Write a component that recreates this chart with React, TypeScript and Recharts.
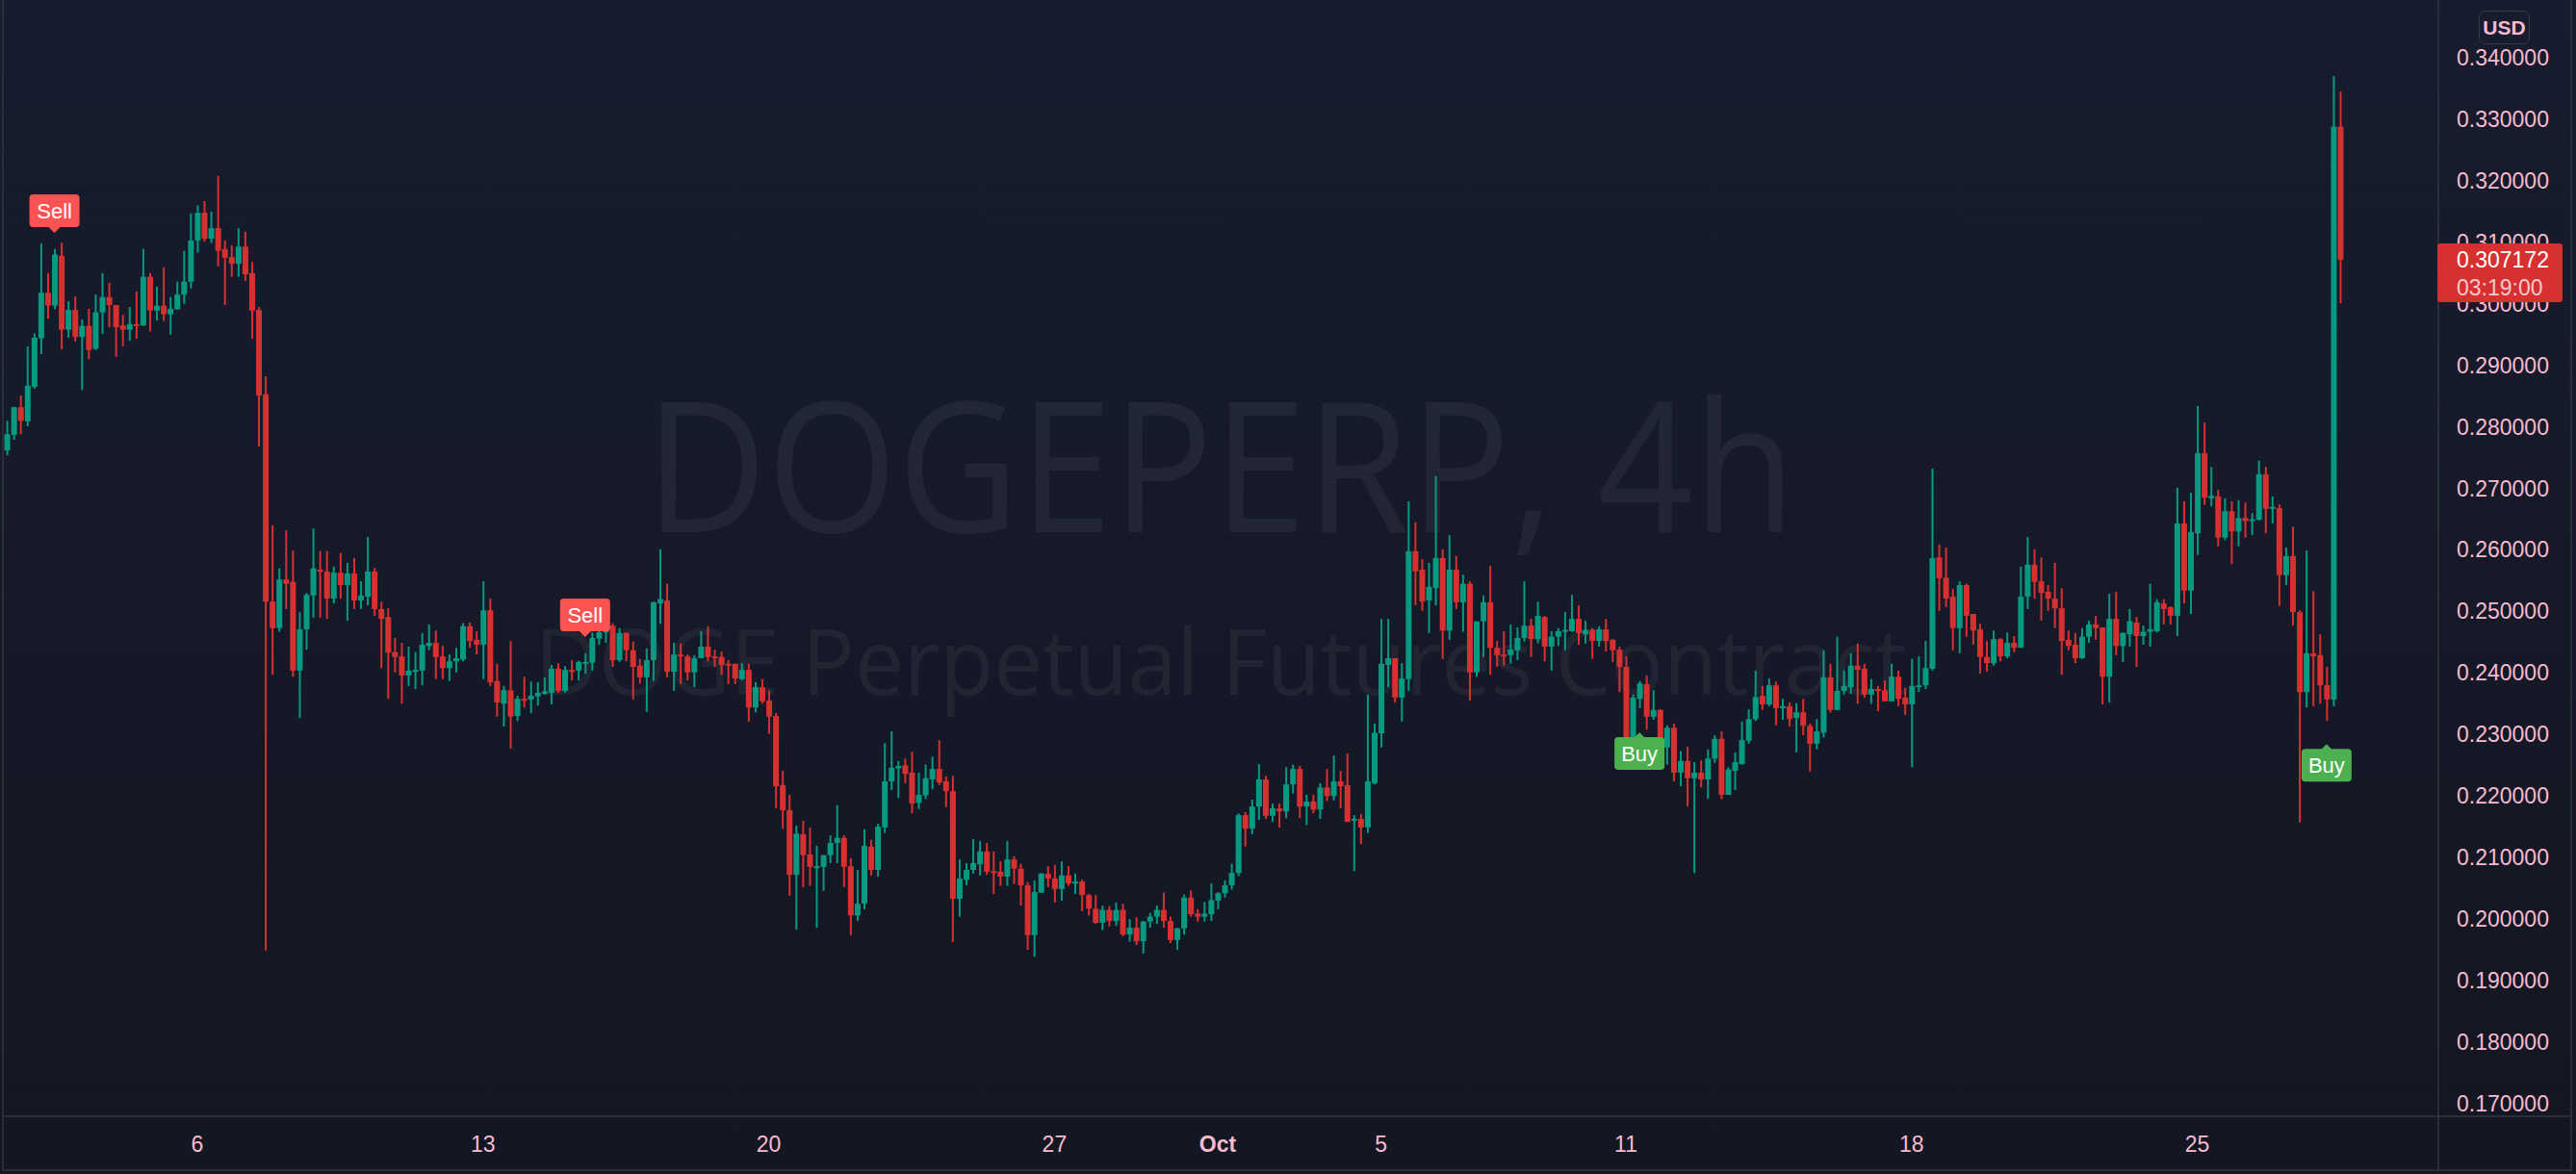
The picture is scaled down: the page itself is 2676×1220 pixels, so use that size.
import React from "react";
import { ComposedChart, Bar, Scatter, XAxis, YAxis } from "recharts";

type Ohlc = [number, number, number, number];

// 4h candles, open / high / low / close, first candle Sep 1 08:00
const weekSep1: Ohlc[] = [
  [0.2762, 0.281, 0.2754, 0.2788], [0.2787, 0.2832, 0.2779, 0.2832], [0.2832, 0.2851, 0.2788, 0.281],
  [0.2809, 0.2931, 0.2801, 0.2867], [0.2865, 0.2952, 0.2862, 0.2945], [0.2944, 0.3098, 0.2918, 0.3018],
  [0.3018, 0.305, 0.2976, 0.2997], [0.2997, 0.3089, 0.2991, 0.308], [0.3078, 0.3099, 0.2926, 0.2958],
  [0.2958, 0.3004, 0.2945, 0.299], [0.299, 0.3012, 0.2939, 0.2946], [0.2946, 0.2975, 0.286, 0.2964],
  [0.2964, 0.2992, 0.291, 0.2925], [0.2927, 0.3015, 0.2925, 0.2986], [0.2986, 0.305, 0.2951, 0.3011],
  [0.3011, 0.3034, 0.2962, 0.2998], [0.2998, 0.2998, 0.2914, 0.2962], [0.2965, 0.2982, 0.2931, 0.2958],
  [0.2958, 0.2995, 0.294, 0.2967], [0.2967, 0.302, 0.2943, 0.2965], [0.2965, 0.3089, 0.2964, 0.3044],
  [0.3044, 0.305, 0.2955, 0.2989], [0.2989, 0.3028, 0.2973, 0.2997], [0.2997, 0.3059, 0.2972, 0.2983],
  [0.2983, 0.3011, 0.295, 0.2992], [0.2991, 0.3036, 0.2991, 0.3015], [0.3015, 0.3086, 0.3, 0.3036],
  [0.3036, 0.3147, 0.3025, 0.3103],
];

const weekSep6: Ohlc[] = [
  [0.3103, 0.316, 0.3083, 0.3148], [0.3148, 0.3167, 0.3101, 0.3106], [0.3106, 0.315, 0.3099, 0.3123],
  [0.3123, 0.3208, 0.3061, 0.3086], [0.3089, 0.3103, 0.2998, 0.3075], [0.3076, 0.3095, 0.3044, 0.3065],
  [0.3065, 0.3123, 0.3044, 0.3093], [0.3093, 0.3117, 0.3037, 0.3048], [0.305, 0.3068, 0.2943, 0.2989],
  [0.299, 0.2995, 0.2768, 0.2851], [0.2853, 0.2882, 0.1949, 0.2516], [0.2516, 0.264, 0.2397, 0.2473],
  [0.2473, 0.257, 0.2467, 0.2552], [0.2552, 0.2632, 0.2504, 0.2545], [0.2548, 0.2599, 0.2394, 0.2404],
  [0.2404, 0.2499, 0.2327, 0.2471], [0.2471, 0.253, 0.2438, 0.2527], [0.2526, 0.2635, 0.249, 0.257],
  [0.2568, 0.2598, 0.249, 0.2567], [0.2565, 0.2598, 0.2488, 0.2521], [0.2521, 0.2573, 0.2513, 0.2563],
  [0.2563, 0.2595, 0.2521, 0.2543], [0.2543, 0.2579, 0.2485, 0.2562], [0.2562, 0.2587, 0.2504, 0.2518],
  [0.2518, 0.2549, 0.2504, 0.2526], [0.2524, 0.2621, 0.251, 0.2565], [0.2565, 0.2571, 0.2493, 0.2504],
  [0.2504, 0.2516, 0.2408, 0.2488], [0.2491, 0.2505, 0.2358, 0.2433], [0.2434, 0.2457, 0.2401, 0.2426],
  [0.2427, 0.2449, 0.235, 0.2396], [0.2396, 0.2443, 0.2379, 0.2404], [0.2404, 0.2434, 0.2374, 0.2405],
  [0.2404, 0.2465, 0.238, 0.2446], [0.2444, 0.2479, 0.2437, 0.2449], [0.2449, 0.2469, 0.239, 0.2426],
  [0.2427, 0.2444, 0.239, 0.2408], [0.2408, 0.243, 0.2387, 0.2419], [0.2419, 0.2441, 0.2401, 0.2424],
  [0.2422, 0.2481, 0.2419, 0.2476], [0.2476, 0.2482, 0.2441, 0.2452], [0.2454, 0.2468, 0.243, 0.2446],
];

const weekSep13: Ohlc[] = [
  [0.2446, 0.2549, 0.239, 0.2502], [0.2502, 0.2521, 0.2379, 0.2385], [0.2387, 0.2415, 0.2329, 0.2352],
  [0.235, 0.2379, 0.2313, 0.2372], [0.2372, 0.2452, 0.2277, 0.2329], [0.233, 0.2363, 0.2322, 0.2358],
  [0.2358, 0.2394, 0.2344, 0.2357], [0.2357, 0.2386, 0.2335, 0.2363], [0.2362, 0.2385, 0.2347, 0.2368],
  [0.2366, 0.2393, 0.2365, 0.237], [0.2368, 0.2413, 0.2349, 0.2407], [0.2407, 0.2416, 0.2368, 0.2371],
  [0.2371, 0.2411, 0.2368, 0.2405], [0.2405, 0.2421, 0.2388, 0.2404], [0.2404, 0.242, 0.2388, 0.2418],
  [0.2417, 0.2432, 0.2399, 0.2418], [0.2417, 0.2466, 0.2404, 0.2457], [0.2456, 0.2481, 0.2446, 0.2466],
  [0.2466, 0.2483, 0.2449, 0.2479], [0.2477, 0.2481, 0.241, 0.2421], [0.2421, 0.2473, 0.2418, 0.2465],
  [0.2465, 0.2466, 0.2419, 0.2437], [0.2437, 0.2451, 0.2357, 0.241], [0.2412, 0.2423, 0.2383, 0.2393],
  [0.2393, 0.244, 0.2337, 0.2421], [0.2421, 0.2516, 0.2387, 0.2515], [0.2513, 0.2601, 0.248, 0.252],
  [0.2518, 0.2545, 0.2393, 0.2402], [0.2402, 0.2449, 0.2371, 0.243], [0.243, 0.2448, 0.2382, 0.2427],
  [0.2427, 0.243, 0.2388, 0.2401], [0.2401, 0.2429, 0.2377, 0.2424], [0.2424, 0.2468, 0.2424, 0.2443],
  [0.2443, 0.2476, 0.2419, 0.2426], [0.2427, 0.2438, 0.241, 0.2426], [0.2426, 0.2435, 0.2397, 0.2413],
  [0.2415, 0.2421, 0.2382, 0.2413], [0.2415, 0.2415, 0.2382, 0.2391], [0.239, 0.2416, 0.2388, 0.2405],
  [0.2405, 0.2415, 0.2321, 0.2344], [0.2344, 0.2385, 0.2336, 0.2377], [0.2377, 0.239, 0.235, 0.2354],
];

const weekSep20: Ohlc[] = [
  [0.2355, 0.2372, 0.2301, 0.2329], [0.233, 0.2335, 0.218, 0.2216], [0.2218, 0.2241, 0.2147, 0.2177],
  [0.2177, 0.2202, 0.2038, 0.2072], [0.2072, 0.2152, 0.1983, 0.2139], [0.2138, 0.216, 0.2052, 0.2104],
  [0.2105, 0.2149, 0.2054, 0.2085], [0.2085, 0.2119, 0.1986, 0.2086], [0.2085, 0.2104, 0.2046, 0.2104],
  [0.2104, 0.2136, 0.2091, 0.2124], [0.2124, 0.2185, 0.2091, 0.2132], [0.2132, 0.2136, 0.2052, 0.2085],
  [0.2086, 0.2099, 0.1974, 0.2006], [0.2006, 0.208, 0.1997, 0.2025], [0.2025, 0.2146, 0.2016, 0.2119],
  [0.2118, 0.2129, 0.2071, 0.208], [0.208, 0.2155, 0.2069, 0.215], [0.2149, 0.2286, 0.214, 0.2224],
  [0.2224, 0.2305, 0.221, 0.2246], [0.2245, 0.2257, 0.2197, 0.2249], [0.225, 0.2261, 0.2221, 0.2236],
  [0.2238, 0.2272, 0.2172, 0.2188], [0.2189, 0.2238, 0.2179, 0.2202], [0.2201, 0.2251, 0.2195, 0.2229],
  [0.2227, 0.2264, 0.2211, 0.2244], [0.2244, 0.2291, 0.2218, 0.2222], [0.2224, 0.2232, 0.2182, 0.2208],
  [0.2208, 0.2233, 0.1963, 0.2033], [0.2033, 0.2097, 0.2004, 0.2066], [0.2064, 0.2091, 0.2055, 0.208],
  [0.208, 0.213, 0.2074, 0.2091], [0.2089, 0.2127, 0.2071, 0.211], [0.211, 0.2124, 0.2072, 0.2077],
  [0.2078, 0.211, 0.2041, 0.2077], [0.2077, 0.2094, 0.2054, 0.2069], [0.2069, 0.2127, 0.2054, 0.2097],
  [0.2097, 0.2102, 0.2057, 0.2082], [0.2082, 0.209, 0.2022, 0.2055], [0.2055, 0.206, 0.195, 0.1974],
  [0.1974, 0.2063, 0.1939, 0.2044], [0.2043, 0.2075, 0.2043, 0.2074], [0.2074, 0.2086, 0.2052, 0.2066],
];

const weekSep27: Ohlc[] = [
  [0.2066, 0.2088, 0.2027, 0.2049], [0.2049, 0.2094, 0.203, 0.2071], [0.2071, 0.2086, 0.2054, 0.2058],
  [0.2059, 0.2074, 0.2041, 0.2061], [0.2061, 0.2064, 0.2013, 0.2039], [0.2039, 0.2041, 0.2006, 0.2017],
  [0.2017, 0.2039, 0.1992, 0.1994], [0.1994, 0.2022, 0.1982, 0.2015], [0.2015, 0.2021, 0.1988, 0.1997],
  [0.1997, 0.2027, 0.1989, 0.2015], [0.2015, 0.2025, 0.1972, 0.1975], [0.1975, 0.2, 0.1963, 0.1986],
  [0.1986, 0.2003, 0.1958, 0.1964], [0.1964, 0.1997, 0.1944, 0.1996], [0.1996, 0.201, 0.1986, 0.2004],
  [0.2004, 0.2022, 0.1992, 0.2015], [0.2015, 0.2043, 0.1986, 0.1997], [0.1997, 0.2004, 0.1961, 0.1966],
  [0.1966, 0.1986, 0.195, 0.1985], [0.1985, 0.204, 0.1975, 0.2035], [0.2035, 0.2047, 0.2004, 0.2008],
  [0.2009, 0.2016, 0.1996, 0.2004], [0.2004, 0.2028, 0.1996, 0.2009], [0.2008, 0.2058, 0.1997, 0.2031],
  [0.203, 0.2044, 0.2016, 0.2042], [0.2042, 0.2063, 0.2035, 0.2055], [0.2055, 0.209, 0.2048, 0.2075],
  [0.2075, 0.2172, 0.207, 0.2169], [0.2169, 0.2174, 0.2118, 0.2147], [0.2147, 0.2194, 0.2138, 0.2183],
  [0.2183, 0.2252, 0.2161, 0.2227], [0.2227, 0.2233, 0.2163, 0.2168], [0.2168, 0.2188, 0.2158, 0.218],
  [0.218, 0.2188, 0.2149, 0.2175], [0.2175, 0.2247, 0.2164, 0.2219], [0.2219, 0.2251, 0.2204, 0.2244],
  [0.2244, 0.2249, 0.2164, 0.2183], [0.2183, 0.2202, 0.2153, 0.2191], [0.2191, 0.2202, 0.2172, 0.2178],
  [0.2178, 0.2221, 0.2163, 0.2214], [0.2214, 0.2244, 0.2192, 0.22], [0.22, 0.2266, 0.2193, 0.2224],
];

const weekOct4: Ohlc[] = [
  [0.2224, 0.2241, 0.218, 0.2216], [0.2218, 0.2269, 0.2158, 0.2158], [0.216, 0.2169, 0.2078, 0.2163],
  [0.2163, 0.2171, 0.2122, 0.2149], [0.2149, 0.2365, 0.214, 0.2224], [0.2221, 0.2318, 0.2219, 0.2303],
  [0.2302, 0.2488, 0.2279, 0.2415], [0.2413, 0.2488, 0.2377, 0.2424], [0.2424, 0.2424, 0.2352, 0.236],
  [0.236, 0.2416, 0.2321, 0.2391], [0.239, 0.2679, 0.2371, 0.2598], [0.2598, 0.2645, 0.251, 0.2565],
  [0.2568, 0.2585, 0.2501, 0.2516], [0.2518, 0.2579, 0.2465, 0.254], [0.2538, 0.272, 0.251, 0.2587],
  [0.2587, 0.2601, 0.2423, 0.2469], [0.2469, 0.2624, 0.2454, 0.2568], [0.2568, 0.259, 0.2504, 0.2515],
  [0.2515, 0.256, 0.2467, 0.2545], [0.2545, 0.2549, 0.2355, 0.2401], [0.2401, 0.2484, 0.2394, 0.2484],
  [0.2484, 0.2526, 0.2426, 0.2515], [0.2515, 0.2574, 0.2397, 0.2441], [0.2441, 0.2452, 0.241, 0.2429],
  [0.243, 0.2468, 0.2412, 0.2429], [0.2429, 0.2479, 0.2415, 0.2438], [0.2437, 0.2474, 0.2421, 0.2457],
  [0.2457, 0.2549, 0.2451, 0.2477], [0.2477, 0.2488, 0.2426, 0.2455], [0.2455, 0.2516, 0.2448, 0.2493],
  [0.2491, 0.2493, 0.2419, 0.2443], [0.2443, 0.2468, 0.2404, 0.2459], [0.2459, 0.2473, 0.2444, 0.2468],
  [0.2467, 0.2499, 0.2437, 0.247], [0.2468, 0.2527, 0.2467, 0.2488], [0.2488, 0.251, 0.2446, 0.2465],
  [0.2463, 0.2485, 0.2448, 0.247], [0.247, 0.2473, 0.2423, 0.2452], [0.2452, 0.2476, 0.2443, 0.2471],
  [0.2471, 0.2488, 0.2435, 0.2452], [0.2454, 0.2455, 0.2418, 0.2437], [0.2438, 0.2443, 0.2369, 0.241],
];

const weekOct11: Ohlc[] = [
  [0.241, 0.2427, 0.2248, 0.2286], [0.2286, 0.2365, 0.2255, 0.236], [0.2358, 0.2387, 0.2343, 0.2383],
  [0.2382, 0.2396, 0.2308, 0.2329], [0.2329, 0.2372, 0.2324, 0.234], [0.234, 0.2341, 0.2272, 0.2277],
  [0.2279, 0.2315, 0.2251, 0.2311], [0.2311, 0.2318, 0.2224, 0.2238], [0.2238, 0.2273, 0.2216, 0.2257],
  [0.2257, 0.228, 0.2183, 0.2229], [0.2229, 0.2255, 0.2075, 0.2238], [0.2238, 0.2258, 0.2214, 0.2227],
  [0.2227, 0.2276, 0.2196, 0.2261], [0.2261, 0.2299, 0.2254, 0.2293], [0.2293, 0.2305, 0.2195, 0.2202],
  [0.2202, 0.2247, 0.2202, 0.2243], [0.2241, 0.2271, 0.221, 0.2255], [0.2252, 0.2321, 0.2251, 0.2291],
  [0.229, 0.2341, 0.2285, 0.2325], [0.2325, 0.2404, 0.2322, 0.2361], [0.2363, 0.2379, 0.234, 0.2349],
  [0.2349, 0.2391, 0.2346, 0.238], [0.238, 0.2386, 0.2315, 0.2343], [0.2343, 0.2358, 0.2324, 0.2346],
  [0.2346, 0.2352, 0.2313, 0.2325], [0.2327, 0.2351, 0.2271, 0.2336], [0.2336, 0.2358, 0.2299, 0.2314],
  [0.2314, 0.2318, 0.224, 0.2285], [0.2285, 0.2325, 0.2276, 0.2305], [0.2303, 0.2437, 0.2295, 0.2393],
  [0.2393, 0.2415, 0.2336, 0.234], [0.234, 0.2459, 0.234, 0.2371], [0.2371, 0.2404, 0.2365, 0.2379],
  [0.2377, 0.2432, 0.2366, 0.2412], [0.2412, 0.2448, 0.235, 0.2405], [0.2407, 0.2415, 0.236, 0.2365],
  [0.2365, 0.239, 0.235, 0.2374], [0.2374, 0.2379, 0.2338, 0.2372], [0.2372, 0.2388, 0.2354, 0.2354],
  [0.2354, 0.2415, 0.2354, 0.2394], [0.2394, 0.2404, 0.2346, 0.2358], [0.236, 0.2376, 0.2332, 0.2349],
];

const weekOct18: Ohlc[] = [
  [0.2349, 0.2423, 0.2247, 0.2379], [0.2379, 0.2427, 0.2369, 0.238], [0.238, 0.2452, 0.2374, 0.2408],
  [0.2407, 0.2732, 0.2404, 0.2587], [0.2588, 0.2609, 0.2501, 0.2554], [0.2555, 0.2604, 0.2507, 0.2521],
  [0.2524, 0.2537, 0.2437, 0.2473], [0.2473, 0.2549, 0.2432, 0.2543], [0.2543, 0.2545, 0.2459, 0.2493],
  [0.2496, 0.2496, 0.2446, 0.2469], [0.2471, 0.248, 0.2399, 0.2426], [0.2426, 0.2452, 0.2402, 0.2416],
  [0.2416, 0.2469, 0.2412, 0.2455], [0.2455, 0.2457, 0.2419, 0.2427], [0.2427, 0.2466, 0.2424, 0.2449],
  [0.2449, 0.246, 0.2434, 0.2441], [0.2441, 0.2573, 0.2441, 0.2524], [0.2524, 0.2621, 0.2504, 0.2576],
  [0.2576, 0.2601, 0.2521, 0.2548], [0.2549, 0.2588, 0.2485, 0.253], [0.2532, 0.2543, 0.2501, 0.2521],
  [0.2521, 0.2579, 0.2473, 0.2505], [0.2505, 0.2538, 0.2397, 0.2452], [0.2454, 0.2469, 0.2437, 0.2444],
  [0.2446, 0.2465, 0.2416, 0.2424], [0.2424, 0.2473, 0.2423, 0.2459], [0.2459, 0.2485, 0.2449, 0.2479],
  [0.2479, 0.2493, 0.2454, 0.2473], [0.2474, 0.2474, 0.2349, 0.2394], [0.2394, 0.2529, 0.2352, 0.2488],
  [0.2488, 0.2532, 0.2429, 0.2444], [0.2444, 0.2466, 0.2418, 0.2465], [0.2463, 0.2504, 0.2443, 0.2484],
  [0.2482, 0.2491, 0.241, 0.246], [0.246, 0.2477, 0.2446, 0.2467], [0.2467, 0.2545, 0.2443, 0.2471],
  [0.2468, 0.252, 0.2466, 0.2515], [0.2513, 0.252, 0.2479, 0.2504], [0.2507, 0.2508, 0.2479, 0.2493],
  [0.2493, 0.2701, 0.246, 0.2643], [0.2643, 0.2679, 0.2513, 0.2534], [0.2534, 0.2693, 0.2496, 0.2629],
];

const weekOct25: Ohlc[] = [
  [0.2627, 0.2834, 0.2592, 0.2757], [0.2757, 0.2807, 0.2673, 0.2685], [0.2684, 0.2735, 0.2671, 0.2688],
  [0.2687, 0.2698, 0.2606, 0.262], [0.262, 0.2684, 0.2616, 0.2663], [0.2663, 0.2679, 0.2577, 0.263],
  [0.263, 0.2681, 0.2606, 0.2652], [0.2652, 0.2677, 0.262, 0.2647], [0.2647, 0.266, 0.2624, 0.265],
  [0.2649, 0.2745, 0.2648, 0.2723], [0.2723, 0.2735, 0.2627, 0.2667], [0.2667, 0.2687, 0.2643, 0.267],
  [0.2668, 0.2674, 0.2509, 0.2559], [0.2559, 0.2604, 0.2543, 0.259], [0.259, 0.2638, 0.2477, 0.2499],
  [0.2499, 0.2502, 0.2157, 0.2369], [0.2369, 0.2599, 0.2344, 0.2432], [0.2432, 0.2533, 0.2346, 0.2427],
  [0.2429, 0.2463, 0.235, 0.238], [0.238, 0.241, 0.2322, 0.2357], [0.2357, 0.337, 0.2346, 0.3288],
  [0.3288, 0.3345, 0.3001, 0.307172],
];

// candle index of the first candle of each labelled day
const dayTicks = [28, 70, 112, 154, 178, 202, 238, 280, 322];
const dayLabels = ["6", "13", "20", "27", "Oct", "5", "11", "18", "25"];

const priceTicks = [
  0.17, 0.18, 0.19, 0.2, 0.21, 0.22, 0.23, 0.24, 0.25, 0.26, 0.27, 0.28, 0.29, 0.3, 0.31, 0.32, 0.33, 0.34,
];

const signals = [
  { i: 7, price: 0.3117, kind: "Sell" },
  { i: 85, price: 0.246, kind: "Sell" },
  { i: 240, price: 0.2305, kind: "Buy" },
  { i: 341, price: 0.2286, kind: "Buy" },
];

const lastPrice = 0.307172;
const countdown = "03:19:00";

const candles = [
  ...weekSep1, ...weekSep6, ...weekSep13, ...weekSep20, ...weekSep27,
  ...weekOct4, ...weekOct11, ...weekOct18, ...weekOct25,
].map(([o, h, l, c], i) => ({ i, o, h, l, c, range: [l, h] }));

const W = 2676;
const H = 1220;
const PLOT_H = 1160;
const PRICE_DOMAIN: [number, number] = [0.16796, 0.34938];
const UP = "#089981";
const DOWN = "#d63031";
const TICK = "#f8bbd0";
const LINE = "#2a2e39";
const FONT = '"Liberation Sans", Arial, sans-serif';

// same linear mapping as the price axis, used for the badge drawn above the axis labels
const priceToY = (p: number) =>
  ((PRICE_DOMAIN[1] - p) / (PRICE_DOMAIN[1] - PRICE_DOMAIN[0])) * PLOT_H;

function Candle(props: any) {
  const { x, y, width, height, payload } = props;
  if (x == null || y == null || !payload) return null;
  const { o, h, l, c } = payload;
  const color = c >= o ? UP : DOWN;
  const ppu = height / Math.max(h - l, 1e-9);
  const yo = y + (h - o) * ppu;
  const yc = y + (h - c) * ppu;
  const top = Math.min(yo, yc);
  const bodyH = Math.max(Math.abs(yo - yc), 2);
  const cx = x + width / 2;
  return (
    <g>
      <rect x={cx - 1} y={y} width={2} height={Math.max(height, 1)} fill={color} />
      <rect x={x} y={top} width={width} height={bodyH} fill={color} />
    </g>
  );
}

function Signal(props: any) {
  const { cx, cy, payload } = props;
  if (cx == null || cy == null) return null;
  const sell = payload.kind === "Sell";
  const fill = sell ? "#ff5252" : "#4caf50";
  const w = 52;
  const boxTop = sell ? cy - 39 : cy + 6;
  const tri = sell
    ? `${cx - 6},${cy - 5} ${cx + 6},${cy - 5} ${cx},${cy + 1}`
    : `${cx - 6},${cy + 7} ${cx + 6},${cy + 7} ${cx},${cy + 1}`;
  return (
    <g>
      <rect x={cx - w / 2} y={boxTop} width={w} height={34} rx={4} fill={fill} />
      <polygon points={tri} fill={fill} />
      <text x={cx} y={boxTop + 25} textAnchor="middle" fill="#ffffff" fontSize={22} fontFamily={FONT}>
        {payload.kind}
      </text>
    </g>
  );
}

function DayTick(props: any) {
  const { x, payload } = props;
  const label = dayLabels[dayTicks.indexOf(payload.value)];
  return (
    <text x={x} y={1197} textAnchor="middle" fill={TICK} fontSize={23} fontFamily={FONT}
      fontWeight={label === "Oct" ? 700 : 400}>
      {label}
    </text>
  );
}

function PriceTick(props: any) {
  const { y, payload } = props;
  return (
    <text x={2552} y={y + 8} textAnchor="start" fill={TICK} fontSize={23} fontFamily={FONT}>
      {payload.value.toFixed(6)}
    </text>
  );
}

export default function App() {
  const badgeY = priceToY(lastPrice);
  return (
    <div
      style={{
        position: "fixed",
        left: 0,
        top: 0,
        width: W,
        height: H,
        overflow: "hidden",
        background: "linear-gradient(180deg, #171c2e 0%, #131722 100%)",
      }}
    >
      <svg width={W} height={H} style={{ position: "absolute", left: 0, top: 0 }}>
        <text x={1268} y={553} textAnchor="middle" fontSize={188} fontFamily='"Open Sans", sans-serif'
          fill="rgba(255,255,255,0.055)" textLength={1195} lengthAdjust="spacingAndGlyphs">
          DOGEPERP, 4h
        </text>
        <text x={1268} y={722} textAnchor="middle" fontSize={96} fontFamily='"Open Sans", sans-serif'
          fill="rgba(255,255,255,0.055)" textLength={1425} lengthAdjust="spacingAndGlyphs">
          DOGE Perpetual Futures Contract
        </text>
        <rect x={2} y={-2} width={2} height={1219} fill={LINE} />
        <rect x={2670} y={-2} width={2} height={1219} fill={LINE} />
        <rect x={2} y={1215} width={2670} height={2} fill={LINE} />
        <rect x={2} y={1159} width={2670} height={2} fill={LINE} />
        <rect x={2532} y={0} width={2} height={1217} fill={LINE} />
      </svg>
      <div style={{ position: "absolute", left: 0, top: 0 }}>
        <ComposedChart width={W} height={H} data={candles} margin={{ top: 0, right: 0, bottom: 0, left: 4 }}>
          <XAxis
            dataKey="i"
            type="number"
            domain={[-0.4387, 357.43]}
            allowDataOverflow
            ticks={dayTicks}
            interval={0}
            height={60}
            axisLine={false}
            tickLine={false}
            tickSize={0}
            tickMargin={0}
            tick={(p: any) => <DayTick {...p} />}
          />
          <YAxis
            orientation="right"
            type="number"
            domain={PRICE_DOMAIN}
            allowDataOverflow
            ticks={priceTicks}
            interval={0}
            width={143}
            axisLine={false}
            tickLine={false}
            tickSize={0}
            tickMargin={0}
            tick={(p: any) => <PriceTick {...p} />}
          />
          <Bar dataKey="range" barSize={6} shape={(p: any) => <Candle {...p} />} isAnimationActive={false} />
          <Scatter data={signals} dataKey="price" shape={(p: any) => <Signal {...p} />} isAnimationActive={false} />
        </ComposedChart>
      </div>
      <svg width={W} height={H} style={{ position: "absolute", left: 0, top: 0, pointerEvents: "none" }}>
        <rect x={2532} y={badgeY - 17} width={130} height={61} rx={3} fill={DOWN} />
        <text x={2552} y={badgeY + 8} fill="#ffffff" fontSize={23} fontFamily={FONT}>
          {lastPrice.toFixed(6)}
        </text>
        <text x={2552} y={badgeY + 37} fill="#f6c9cc" fontSize={23} fontFamily={FONT}>
          {countdown}
        </text>
      </svg>
      <div
        style={{
          position: "absolute",
          left: 2575,
          top: 11,
          width: 51,
          height: 33,
          border: "1.5px solid #363a45",
          borderRadius: 7,
          color: TICK,
          fontFamily: FONT,
          fontSize: 21,
          fontWeight: 700,
          lineHeight: "33px",
          textAlign: "center",
        }}
      >
        USD
      </div>
    </div>
  );
}
